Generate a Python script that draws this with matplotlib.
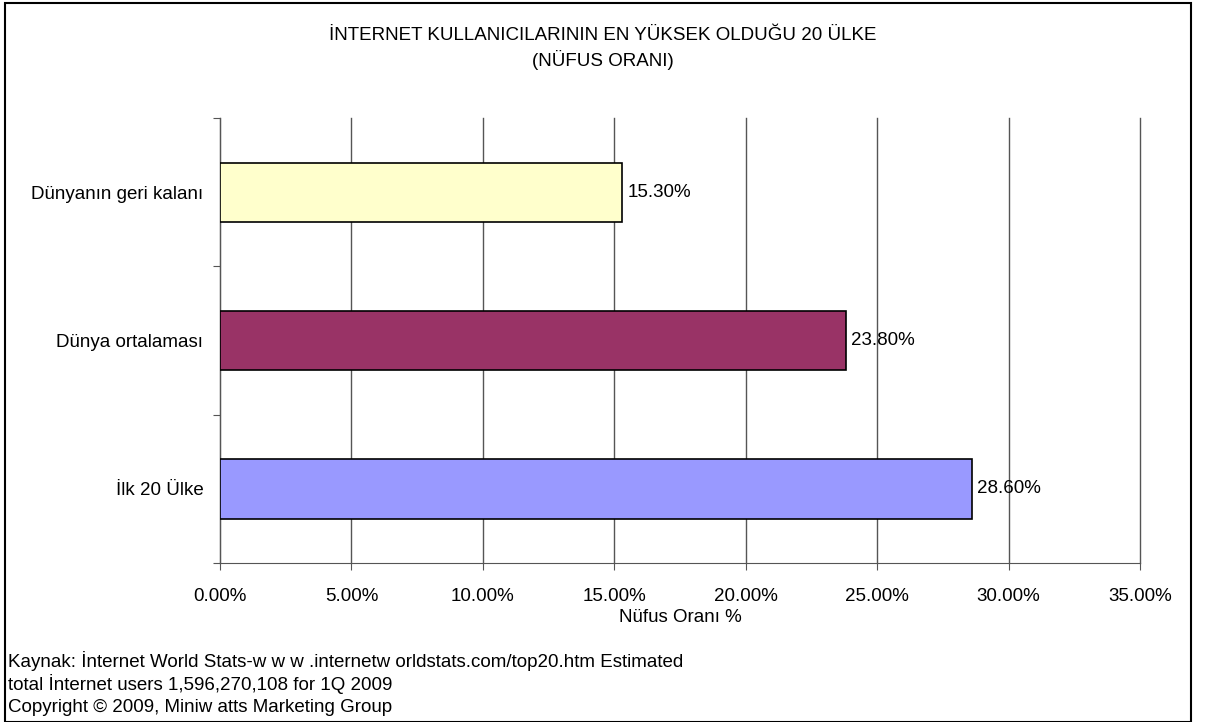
import matplotlib.pyplot as plt
from matplotlib.patches import Rectangle

plt.rcParams['font.family'] = ['Liberation Sans', 'DejaVu Sans']

categories = ['İlk 20 Ülke', 'Dünya ortalaması', 'Dünyanın geri kalanı']
values = [28.6, 23.8, 15.3]
colors = ['#9999FF', '#993366', '#FFFFCC']
xticks = [0, 5, 10, 15, 20, 25, 30, 35]

fs = 13.5
fig = plt.figure(figsize=(12.06, 7.22), dpi=100)
ax = fig.add_axes([220 / 1206, 1 - 563 / 722, 920 / 1206, 445 / 722])

y = range(len(categories))
bars = ax.barh(y, values, height=0.4, color=colors, edgecolor='black', linewidth=1.2, zorder=3)
for b, v in zip(bars, values):
    ax.text(v + 0.2, b.get_y() + b.get_height() / 2, f'{v:.2f}%', va='center', ha='left', fontsize=fs, zorder=4)

ax.set_xlim(0, 35)
ax.set_ylim(-0.5, 2.5)
ax.set_xticks(xticks)
ax.set_xticklabels([f'{t:.2f}%' for t in xticks], fontsize=fs)
ax.set_yticks([-0.5, 0.5, 1.5, 2.5])
ax.set_yticklabels([])
ax.set_yticks(list(y), minor=True)
ax.set_yticklabels(categories, minor=True, fontsize=fs)
ax.tick_params(axis='y', which='minor', length=0, pad=12)
ax.tick_params(axis='y', which='major', length=5, color='#555555')
ax.tick_params(axis='x', length=5, color='#555555', pad=13)
ax.grid(axis='x', color='#555555', linewidth=1, zorder=0)
for gl in ax.get_xgridlines():
    gl.set_clip_on(False)
for s in ['top', 'right']:
    ax.spines[s].set_visible(False)
for s in ['left', 'bottom']:
    ax.spines[s].set_color('#555555')
ax.set_xlabel('Nüfus Oranı %', fontsize=fs, labelpad=3)

fig.text(0.5, 1 - 36 / 722, 'İNTERNET KULLANICILARININ EN YÜKSEK OLDUĞU 20 ÜLKE',
         ha='center', va='center', fontsize=fs)
fig.text(0.5, 1 - 60 / 722, '(NÜFUS ORANI)', ha='center', va='center', fontsize=fs)

fig.text(8 / 1206, 1 - 661 / 722, 'Kaynak: İnternet World Stats-w w w .internetw orldstats.com/top20.htm Estimated',
         ha='left', va='center', fontsize=fs)
fig.text(8 / 1206, 1 - 684 / 722, 'total İnternet users 1,596,270,108 for 1Q 2009',
         ha='left', va='center', fontsize=fs)
fig.text(8 / 1206, 1 - 707 / 722, 'Copyright © 2009, Miniw atts Marketing Group',
         ha='left', va='center', fontsize=fs)

fig.patches.append(Rectangle((5 / 1206, 0), 1186 / 1206, 1 - 3 / 722, transform=fig.transFigure,
                             fill=False, edgecolor='black', linewidth=1.5))

fig.savefig('out.png', dpi=100)
